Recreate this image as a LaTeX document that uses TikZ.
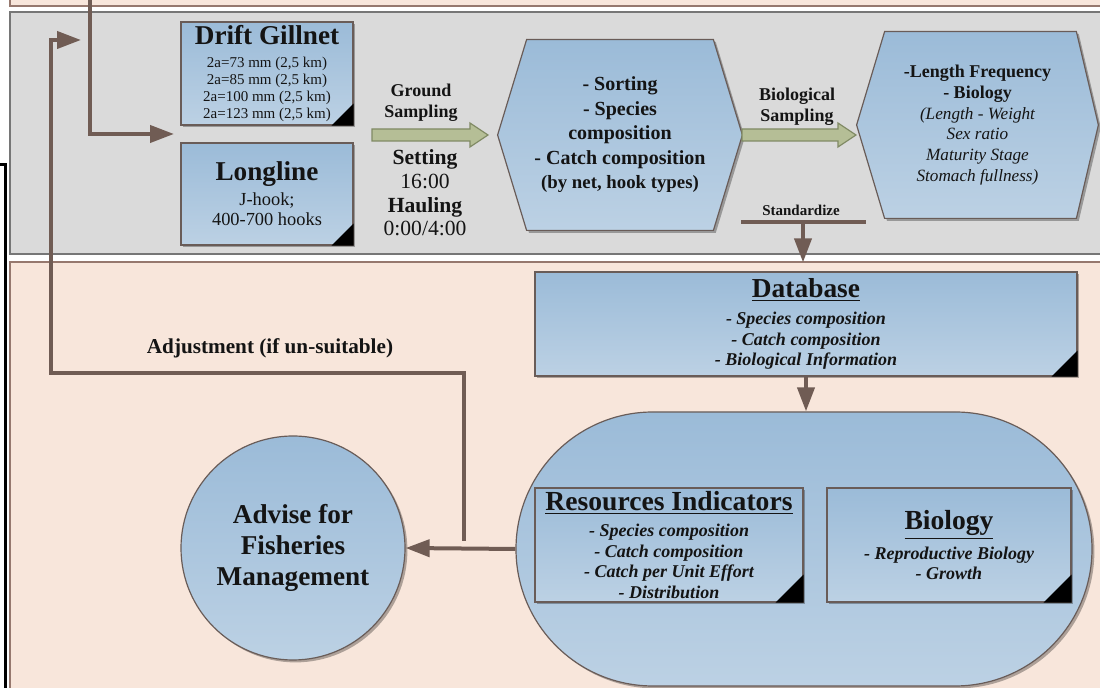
\documentclass[tikz,border=0pt]{standalone}
\usepackage{fontspec}
\setmainfont{Liberation Serif}
\usetikzlibrary{arrows.meta,calc,shadows,shapes.misc}
\definecolor{blueT}{RGB}{155,187,216}
\definecolor{blueB}{RGB}{188,209,228}
\definecolor{bordc}{RGB}{105,92,88}
\definecolor{grayF}{RGB}{218,218,218}
\definecolor{grayD}{RGB}{118,118,118}
\definecolor{peachF}{RGB}{248,230,219}
\definecolor{peachD}{RGB}{150,120,110}
\definecolor{arrc}{RGB}{112,92,84}
\definecolor{greenF}{RGB}{181,190,150}
\definecolor{greenD}{RGB}{128,138,100}
\definecolor{txt}{RGB}{20,20,20}
\pgfdeclarelayer{back}\pgfdeclarelayer{mid}\pgfsetlayers{back,mid,main}
\begin{document}
\begin{tikzpicture}[x=0.5pt,y=-0.5pt,
  every node/.style={text=txt},
  shd/.style={draw=bordc,line width=0.6pt,top color=blueT,bottom color=blueB,
     drop shadow={shadow xshift=1.2pt,shadow yshift=-1.2pt,opacity=0.3,fill=black}},
  box/.style={shd,align=center,inner sep=0pt},
  lbl/.style={align=center,inner sep=0pt},
  barr/.style={draw=arrc,line width=2pt,-{Triangle[length=12pt,width=8.5pt]}},
  bline/.style={draw=arrc,line width=2pt},
  garr/.style={fill=greenF,draw=greenD,line width=0.6pt,line join=miter}]
\useasboundingbox (0,0) rectangle (1100,688);
\clip (0,0) rectangle (1100,688);

\begin{pgfonlayer}{back}
  \filldraw[fill=peachF,draw=peachD,line width=0.7pt] (10,-10) rectangle (1110,6);
  \filldraw[fill=grayF,draw=grayD,line width=0.7pt] (10,12) rectangle (1110,254);
  \filldraw[fill=peachF,draw=peachD,line width=0.7pt] (10,262) rectangle (1110,700);
  \draw[line width=1.5pt,black] (0,165) -- (5,165) -- (5,700);
\end{pgfonlayer}

% gear boxes
\node[box,minimum width=86pt,minimum height=51.5pt,font=\fontsize{7.5}{8.5}\selectfont] (gill) at (267,73.5)
  {{\fontsize{13.6}{14}\selectfont\bfseries Drift Gillnet}\\[3pt]2a=73 mm (2,5 km)\\2a=85 mm (2,5 km)\\2a=100 mm (2,5 km)\\2a=123 mm (2,5 km)};
\node[box,minimum width=86pt,minimum height=51pt,font=\fontsize{9.2}{10}\selectfont] (long) at (267,194)
  {{\fontsize{13.6}{14}\selectfont\bfseries Longline}\\[2.5pt]J-hook;\\400-700 hooks};

\node[lbl,font=\fontsize{9}{10.5}\selectfont\bfseries] (gs) at (421,103) {Ground\\Sampling};
\node[lbl,font=\fontsize{10.8}{11.8}\selectfont] (set) at (425,193) {{\bfseries Setting}\\16:00\\{\bfseries Hauling}\\0:00/4:00};

% hexagon 1
\node[lbl,minimum width=122pt,minimum height=95pt,font=\fontsize{10}{12.25}\selectfont\bfseries] (h1) at (620,135)
  {- Sorting\\- Species\\composition\\- Catch composition\\{\fontsize{9.4}{11}\selectfont (by net, hook types)}};
\begin{pgfonlayer}{mid}
\path[shd] (h1.west) -- ($(h1.north west)+(29,0)$) -- ($(h1.north east)+(-29,0)$) -- (h1.east)
   -- ($(h1.south east)+(-29,0)$) -- ($(h1.south west)+(29,0)$) -- cycle;
\end{pgfonlayer}

% hexagon 2
\node[lbl,minimum width=120.5pt,minimum height=93pt,font=\fontsize{8.6}{10.4}\selectfont\itshape] (h2) at (977.5,125)
  {{\fontsize{9}{10}\selectfont\upshape\bfseries -Length Frequency}\\{\fontsize{9}{10}\selectfont\upshape\bfseries - Biology}\\(Length - Weight\\Sex ratio\\Maturity Stage\\Stomach fullness)};
\begin{pgfonlayer}{mid}
\path[shd] (h2.west) -- ($(h2.north west)+(28,0)$) -- ($(h2.north east)+(-22,0)$) -- (h2.east)
   -- ($(h2.south east)+(-22,0)$) -- ($(h2.south west)+(28,0)$) -- cycle;
\end{pgfonlayer}

\node[lbl,font=\fontsize{9}{10.5}\selectfont\bfseries] (bs) at (797,107) {Biological\\Sampling};
\node[lbl,font=\fontsize{7.5}{9}\selectfont\bfseries] (std) at (801,210) {Standardize};

% database
\node[box,minimum width=271pt,minimum height=52pt,font=\fontsize{9}{10.25}\selectfont\bfseries\itshape] (db) at (806,324)
  {{\fontsize{13.7}{14}\selectfont\upshape\bfseries\underline{Database}}\\[3.25pt]- Species composition\\- Catch composition\\- Biological Information};

% stadium with indicators
\node[box,rounded rectangle,minimum width=288pt,minimum height=137pt] (stad) at (804,549) {};
\node[box,minimum width=134pt,minimum height=57pt,font=\fontsize{9}{10.35}\selectfont\bfseries\itshape] (res) at (669,545)
  {{\fontsize{13.8}{14}\selectfont\upshape\bfseries\underline{Resources Indicators}}\\[2.65pt]- Species composition\\- Catch composition\\- Catch per Unit Effort\\- Distribution};
\node[box,minimum width=122pt,minimum height=57pt,font=\fontsize{9}{10.35}\selectfont\bfseries\itshape] (bio) at (949,545)
  {{\fontsize{13.8}{14}\selectfont\upshape\bfseries\underline{Biology}}\\[2.65pt]- Reproductive Biology\\- Growth};

\node[box,circle,minimum size=112pt,font=\fontsize{13.6}{15.5}\selectfont\bfseries] (adv) at (293,548)
  {Advise for\\Fisheries\\Management};
\node[lbl,font=\fontsize{10.6}{12}\selectfont\bfseries] (adjl) at (270,348) {Adjustment (if un-suitable)};

% black corner marks
\foreach \n/\s in {gill/22,long/22,db/26,res/28,bio/28}
  \fill[black] (\n.south east) -- ++(-\s,0) -- ++(\s,-\s) -- cycle;

% green block arrows
\coordinate (g1s) at (372,135); \coordinate (g1e) at (488,135);
\path[garr] ($(g1s)+(0,-6)$) -- ($(g1e)+(-18,-6)$) -- ($(g1e)+(-18,-12)$) -- (g1e)
  -- ($(g1e)+(-18,12)$) -- ($(g1e)+(-18,6)$) -- ($(g1s)+(0,6)$) -- cycle;
\coordinate (g2s) at (742,135); \coordinate (g2e) at (856,135);
\path[garr] ($(g2s)+(0,-6)$) -- ($(g2e)+(-18,-6)$) -- ($(g2e)+(-18,-12)$) -- (g2e)
  -- ($(g2e)+(-18,12)$) -- ($(g2e)+(-18,6)$) -- ($(g2s)+(0,6)$) -- cycle;

% brown connectors
\coordinate (tA) at (90,-5); \coordinate (tB) at (174,134);
\draw[barr] (tA) |- (tB);
\coordinate (aS) at (464,541); \coordinate (aC) at (51,373); \coordinate (aE) at (81,40);
\draw[barr] (aS) |- (aC) |- (aE);
\draw[barr] (stad.west) -- (adv.east);
\draw[barr] (db.south) -- (db.south |- stad.north);
\coordinate (sL) at (741,222); \coordinate (sR) at (866,222); \coordinate (sM) at (803,222);
\draw[bline] (sL) -- (sR);
\draw[barr,shorten >=4.5pt] (sM) -- (sM |- db.north);
\end{tikzpicture}
\end{document}
